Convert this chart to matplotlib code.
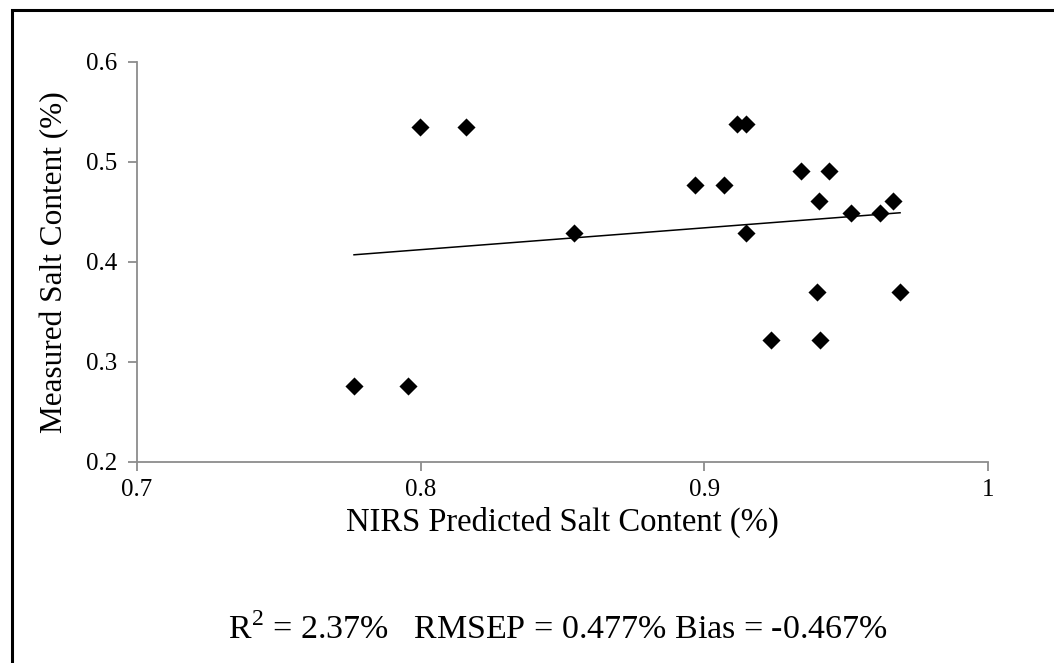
import numpy as np
import matplotlib.pyplot as plt
from matplotlib.patches import Rectangle

plt.rcParams['font.family'] = ['Liberation Serif', 'DejaVu Serif']
plt.rcParams['mathtext.fontset'] = 'custom'
plt.rcParams['mathtext.rm'] = 'Liberation Serif'

# NIRS predicted vs measured salt content (%)
predicted = [0.7765, 0.7955, 0.7998, 0.816, 0.854, 0.8967, 0.907, 0.9115,
             0.9147, 0.9147, 0.9235, 0.934, 0.944, 0.9404, 0.9397, 0.9408,
             0.9517, 0.9619, 0.9665, 0.969]
measured = [0.276, 0.276, 0.535, 0.535, 0.429, 0.477, 0.477, 0.538,
            0.538, 0.429, 0.322, 0.491, 0.491, 0.461, 0.370, 0.322,
            0.449, 0.449, 0.461, 0.370]

x_ticks = [0.7, 0.8, 0.9, 1.0]
x_ticklabels = ['0.7', '0.8', '0.9', '1']
y_ticks = [0.2, 0.3, 0.4, 0.5, 0.6]
stats_text = r'R$^{\mathrm{2}}$ = 2.37%   RMSEP = 0.477% Bias = -0.467%'

fig = plt.figure(figsize=(10.54, 6.63), dpi=100)
ax = fig.add_axes([137 / 1054, 1 - 462 / 663, 851 / 1054, 400 / 663])

ax.scatter(predicted, measured, marker='D', s=85, color='black',
           linewidths=0, zorder=3)

# linear trend line over the data range
x = np.array(predicted)
slope, icpt = np.polyfit(x, np.array(measured), 1)
xs = np.array([x.min(), x.max()])
ax.plot(xs, slope * xs + icpt, color='black', lw=1.1, zorder=2)

ax.set_xlim(0.7, 1.0)
ax.set_ylim(0.2, 0.6)
ax.set_xticks(x_ticks)
ax.set_xticklabels(x_ticklabels)
ax.set_yticks(y_ticks)
ax.set_yticklabels(['%.1f' % v for v in y_ticks])

for side in ['top', 'right']:
    ax.spines[side].set_visible(False)
for side in ['left', 'bottom']:
    ax.spines[side].set_color('#8c8c8c')
    ax.spines[side].set_linewidth(1.3)
ax.tick_params(axis='both', colors='#8c8c8c', length=6.5, width=1.3,
               labelcolor='black', labelsize=18)
ax.tick_params(axis='y', pad=8)
ax.tick_params(axis='x', pad=6)

ax.set_xlabel('NIRS Predicted Salt Content (%)', fontsize=23.5, labelpad=4)
ax.set_ylabel('Measured Salt Content (%)', fontsize=22.5, labelpad=12)

fig.text(0.529, 1 - 630 / 663, stats_text, ha='center', va='center',
         fontsize=24.5)

# outer frame (runs off the right and bottom edges)
fig.patches.append(Rectangle((12 / 1054, -0.1), 1.2, 1.1 - 10 / 663,
                             transform=fig.transFigure, fill=False,
                             edgecolor='black', lw=2.2))

fig.savefig('out.png', dpi=100)
